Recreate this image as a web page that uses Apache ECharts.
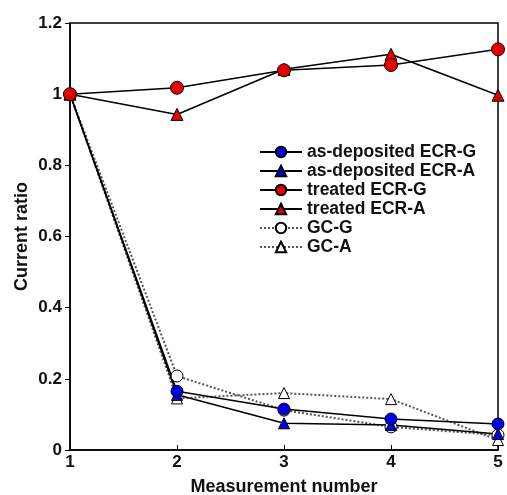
<!DOCTYPE html>
<html>
<head>
<meta charset="utf-8">
<script src="https://cdn.jsdelivr.net/npm/echarts@6/dist/echarts.min.js"></script>
<style>
  html, body { margin: 0; padding: 0; background: #fff; }
  #chart { width: 507px; height: 495px; }
</style>
</head>
<body>
<div id="chart"></div>
<script>
// measurement numbers
var xs = [1, 2, 3, 4, 5];
var asDepG = [1.0, 0.165, 0.115, 0.087, 0.073];
var asDepA = [1.0, 0.155, 0.075, 0.07, 0.045];
var treatedG = [1.0, 1.018, 1.067, 1.082, 1.126];
var treatedA = [1.0, 0.943, 1.07, 1.112, 0.997];
var gcG = [1.0, 0.208, 0.112, 0.065, 0.042];
var gcA = [1.0, 0.145, 0.16, 0.143, 0.028];

function pts(arr) {
  return xs.map(function (x, i) { return [x, arr[i]]; });
}

function mkSeries(name, data, symbol, fill, dotted, size) {
  return {
    name: name,
    type: "line",
    data: pts(data),
    symbol: symbol,
    symbolSize: size,
    lineStyle: {
      color: dotted ? "#555" : "#000",
      width: dotted ? 2 : 1.5,
      type: dotted ? "dotted" : "solid",
    },
    itemStyle: { color: fill, borderColor: "#000", borderWidth: 1 },
    emphasis: { disabled: true },
    animation: false,
  };
}

var chart = echarts.init(document.getElementById("chart"));
var option = {
  backgroundColor: "#fff",
  textStyle: { fontFamily: "Liberation Sans, Arial, sans-serif" },
  grid: {
    left: 70, right: 9, top: 23, bottom: 45,
    outerBoundsMode: "none",
    show: true, borderColor: "#000", borderWidth: 1.5,
  },
  legend: {
    orient: "vertical",
    left: 259,
    top: 143,
    padding: 0,
    itemWidth: 42,
    itemHeight: 13,
    itemGap: 1,
    textStyle: { fontSize: 17.5, lineHeight: 18, fontWeight: "bold", color: "#111" },
    data: ["as-deposited ECR-G", "as-deposited ECR-A", "treated ECR-G", "treated ECR-A", "GC-G", "GC-A"],
  },
  xAxis: {
    type: "value",
    min: 1, max: 5, interval: 1,
    name: "Measurement number",
    nameLocation: "middle",
    nameGap: 28,
    nameMoveOverlap: false,
    nameTextStyle: { fontSize: 18, fontWeight: "bold", color: "#111" },
    axisLine: { lineStyle: { color: "#000", width: 1.5 } },
    axisTick: { inside: true, length: 5, lineStyle: { color: "#000" } },
    axisLabel: { fontSize: 17, fontWeight: "bold", color: "#111", margin: 4 },
    splitLine: { show: false },
  },
  yAxis: {
    type: "value",
    min: 0, max: 1.2, interval: 0.2,
    name: "Current ratio",
    nameLocation: "middle",
    nameGap: 39,
    nameMoveOverlap: false,
    nameTextStyle: { fontSize: 18, fontWeight: "bold", color: "#111" },
    axisLine: { show: true, lineStyle: { color: "#000", width: 1.5 } },
    axisTick: { show: true, inside: false, length: 5, lineStyle: { color: "#000" } },
    axisLabel: { fontSize: 17, fontWeight: "bold", color: "#111", margin: 8 },
    splitLine: { show: false },
  },
  series: [
    mkSeries("GC-G", gcG, "circle", "#fff", true, 12),
    mkSeries("GC-A", gcA, "triangle", "#fff", true, 11),
    mkSeries("as-deposited ECR-A", asDepA, "triangle", "#0000e6", false, 11),
    mkSeries("as-deposited ECR-G", asDepG, "circle", "#0000e6", false, 12),
    mkSeries("treated ECR-A", treatedA, "triangle", "#e60000", false, 12),
    mkSeries("treated ECR-G", treatedG, "circle", "#e60000", false, 13),
  ],
};
chart.setOption(option);
</script>
</body>
</html>
